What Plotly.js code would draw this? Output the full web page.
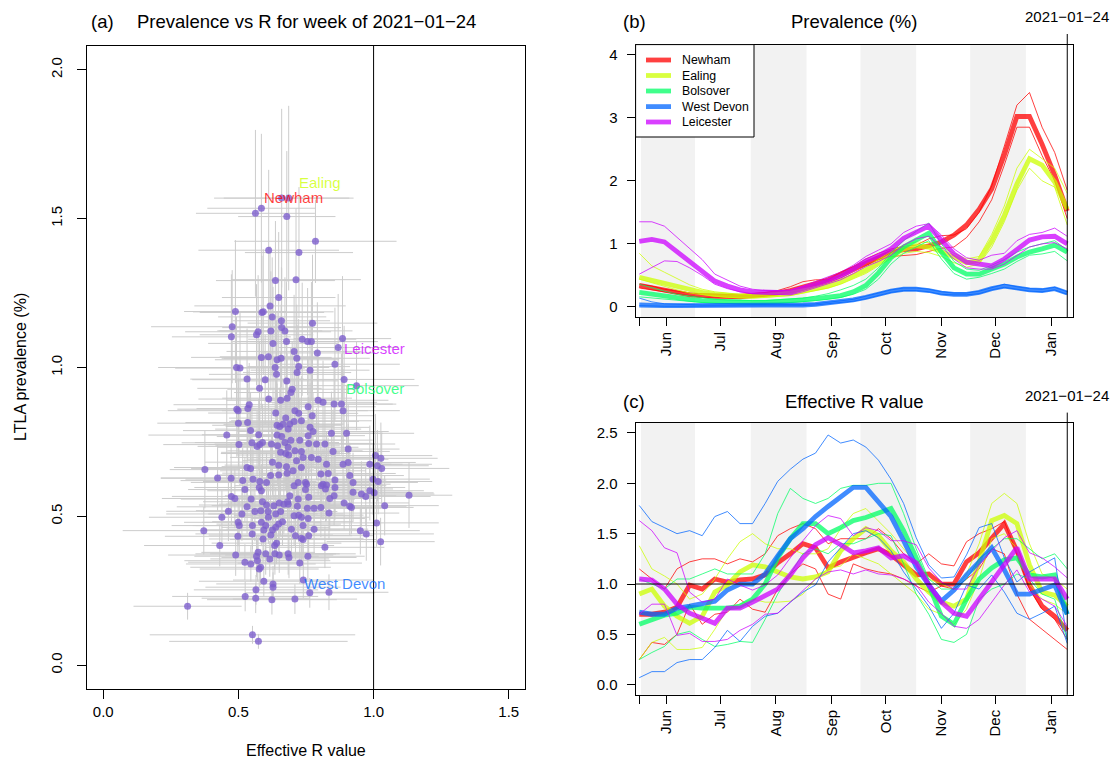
<!DOCTYPE html>
<html><head><meta charset="utf-8">
<script src="https://cdn.plot.ly/plotly-3.0.1.min.js"></script>
<style>html,body{margin:0;padding:0;background:#fff;}#chart{width:1115px;height:763px;}</style>
</head><body><div id="chart"></div>
<script>
// ---------- Panel (a): LTLA prevalence vs R ----------
const ltlaR = [
0.563,0.585,0.660,0.686,0.679,0.785,0.612,0.724,0.637,0.713,
0.649,0.617,0.489,0.587,0.592,0.625,0.659,0.774,0.477,0.660,
0.672,0.620,0.573,0.474,0.567,0.628,0.678,0.585,0.611,0.643,
0.658,0.493,0.506,0.636,0.641,0.532,0.599,0.679,0.578,0.612,
0.656,0.680,0.540,0.494,0.499,0.535,0.638,0.675,0.500,0.534,
0.643,0.653,0.665,0.684,0.545,0.457,0.575,0.643,0.660,0.550,
0.502,0.569,0.579,0.589,0.622,0.645,0.672,0.684,0.656,0.675,
0.686,0.626,0.376,0.532,0.545,0.649,0.678,0.423,0.473,0.516,
0.554,0.579,0.604,0.619,0.649,0.680,0.736,0.756,0.770,0.885,
0.869,0.706,0.792,0.716,0.723,0.857,0.765,0.717,0.891,0.937,
0.699,0.694,0.795,0.813,0.854,0.881,0.709,0.723,0.758,0.887,
0.773,0.733,0.690,0.706,0.765,0.776,0.844,0.900,0.758,0.727,
0.694,0.760,0.789,0.820,0.906,0.709,0.733,0.850,0.739,0.770,
0.795,0.715,0.826,0.887,0.906,1.007,1.014,0.986,0.702,0.733,
0.805,0.832,0.912,0.924,0.998,0.748,0.721,0.857,0.813,0.474,
0.487,0.524,0.577,0.585,0.547,0.589,0.604,0.631,0.651,0.668,
0.682,0.532,0.463,0.513,0.561,0.583,0.610,0.638,0.656,0.439,
0.611,0.499,0.503,0.585,0.601,0.552,0.649,0.663,0.638,0.372,
0.594,0.626,0.551,0.498,0.620,0.591,0.641,0.634,0.431,0.490,
0.567,0.573,0.601,0.635,0.651,0.684,0.616,0.570,0.524,0.546,
0.582,0.577,0.594,0.628,0.628,0.565,0.525,0.564,0.624,0.312,
0.552,0.574,0.706,0.752,0.748,0.807,0.826,0.857,0.854,0.838,
0.822,0.924,0.955,0.986,1.131,0.690,0.721,0.760,0.684,0.718,
0.755,0.780,0.805,0.891,0.912,0.918,1.041,0.835,0.706,0.723,
0.733,0.758,1.011,0.739,0.780,0.696,0.951,0.973,0.711,0.733,
0.760,0.739,1.026,0.820,0.687,0.757,0.727,0.740,0.764,0.835,
0.709,1.017,0.971,1.002,1.027,1.030];
const ltlaPrev = [
1.518,1.535,1.569,1.569,1.507,1.424,1.394,1.386,1.292,1.295,
1.235,1.207,1.188,1.185,1.187,1.170,1.157,1.149,1.137,1.134,
1.123,1.123,1.120,1.103,1.110,1.081,1.087,1.034,1.036,1.026,
1.031,1.000,0.998,1.000,0.977,0.961,0.959,0.955,0.930,0.894,
0.890,0.897,0.875,0.860,0.855,0.862,0.847,0.830,0.813,0.815,
0.806,0.802,0.809,0.793,0.788,0.773,0.774,0.773,0.768,0.747,
0.741,0.735,0.741,0.748,0.743,0.737,0.748,0.732,0.715,0.711,
0.706,0.682,0.657,0.664,0.661,0.672,0.667,0.629,0.628,0.620,
0.625,0.617,0.614,0.637,0.639,0.645,1.095,1.087,1.087,1.097,
1.067,1.054,1.049,1.031,1.003,1.011,0.991,0.983,0.960,0.939,
0.927,0.916,0.890,0.883,0.877,0.877,0.855,0.846,0.868,0.855,
0.838,0.821,0.810,0.819,0.799,0.785,0.779,0.779,0.771,0.756,
0.756,0.745,0.743,0.743,0.726,0.720,0.718,0.718,0.698,0.698,
0.692,0.687,0.675,0.675,0.681,0.704,0.670,0.675,0.653,0.664,
0.642,0.644,0.637,0.614,0.625,0.614,0.614,0.622,0.608,0.567,
0.560,0.590,0.597,0.586,0.558,0.549,0.538,0.536,0.545,0.541,
0.549,0.532,0.517,0.508,0.516,0.519,0.516,0.508,0.516,0.497,
0.497,0.480,0.469,0.480,0.469,0.469,0.474,0.482,0.463,0.452,
0.454,0.454,0.441,0.433,0.437,0.424,0.410,0.402,0.402,0.370,
0.366,0.379,0.374,0.374,0.370,0.374,0.357,0.351,0.346,0.340,
0.329,0.323,0.282,0.273,0.262,0.253,0.231,0.225,0.220,0.198,
0.102,0.080,0.603,0.608,0.590,0.603,0.605,0.597,0.569,0.560,
0.592,0.581,0.575,0.586,0.571,0.569,0.558,0.564,0.541,0.534,
0.527,0.527,0.530,0.545,0.534,0.530,0.536,0.511,0.502,0.504,
0.497,0.493,0.478,0.469,0.457,0.457,0.452,0.441,0.435,0.426,
0.435,0.422,0.415,0.396,0.362,0.366,0.343,0.286,0.243,0.245,
0.222,0.617,0.567,0.579,0.695,0.661];
const ltlaRErr = [
0.22,0.20,0.25,0.24,0.18,0.30,0.26,0.20,0.22,0.24,
0.21,0.28,0.19,0.23,0.26,0.20,0.18,0.24,0.30,0.22,
0.25,0.19,0.27,0.22,0.21,0.24,0.20,0.26,0.18,0.23,
0.22,0.29,0.24,0.20,0.25,0.21,0.27,0.19,0.23,0.26,
0.20,0.24,0.28,0.22,0.26,0.19,0.25,0.21,0.30,0.23,
0.24,0.20,0.22,0.27,0.25,0.29,0.21,0.18,0.24,0.26,
0.28,0.22,0.19,0.25,0.21,0.23,0.20,0.26,0.22,0.24,
0.19,0.25,0.13,0.27,0.22,0.20,0.24,0.21,0.26,0.23,
0.25,0.21,0.28,0.19,0.22,0.24,0.20,0.26,0.23,0.18,
0.22,0.25,0.21,0.27,0.19,0.24,0.22,0.20,0.26,0.23,
0.24,0.21,0.26,0.20,0.23,0.19,0.27,0.22,0.25,0.21,
0.23,0.26,0.20,0.24,0.22,0.28,0.19,0.25,0.21,0.27,
0.20,0.24,0.22,0.26,0.19,0.25,0.23,0.21,0.27,0.22,
0.26,0.20,0.24,0.22,0.25,0.21,0.19,0.23,0.27,0.24,
0.22,0.25,0.20,0.24,0.21,0.26,0.23,0.19,0.25,0.22,
0.27,0.21,0.24,0.20,0.26,0.22,0.25,0.23,0.19,0.24,
0.21,0.26,0.23,0.28,0.20,0.24,0.22,0.25,0.21,0.27,
0.24,0.20,0.25,0.22,0.27,0.21,0.23,0.26,0.20,0.30,
0.22,0.25,0.21,0.27,0.23,0.20,0.24,0.22,0.28,0.25,
0.23,0.21,0.26,0.24,0.20,0.25,0.22,0.27,0.21,0.24,
0.26,0.22,0.24,0.21,0.25,0.23,0.27,0.20,0.24,0.20,
0.38,0.33,0.22,0.25,0.20,0.24,0.21,0.26,0.23,0.19,
0.25,0.22,0.27,0.20,0.16,0.24,0.21,0.26,0.23,0.20,
0.22,0.25,0.19,0.24,0.21,0.23,0.20,0.26,0.22,0.24,
0.25,0.21,0.23,0.27,0.20,0.24,0.22,0.25,0.21,0.23,
0.24,0.27,0.20,0.22,0.25,0.21,0.23,0.26,0.24,0.22,
0.23,0.20,0.24,0.22,0.21,0.25];
const ltlaPrevErr = [
0.28,0.25,0.30,0.31,0.22,0.14,0.27,0.22,0.20,0.24,
0.22,0.20,0.24,0.19,0.21,0.20,0.18,0.23,0.19,0.20,
0.18,0.20,0.19,0.21,0.17,0.19,0.20,0.17,0.18,0.16,
0.18,0.17,0.19,0.16,0.18,0.17,0.15,0.18,0.16,0.15,
0.16,0.15,0.14,0.16,0.15,0.13,0.15,0.14,0.15,0.13,
0.14,0.13,0.15,0.14,0.13,0.15,0.12,0.14,0.13,0.12,
0.13,0.12,0.14,0.13,0.12,0.13,0.14,0.12,0.13,0.12,
0.12,0.11,0.13,0.12,0.11,0.12,0.13,0.11,0.12,0.11,
0.11,0.12,0.10,0.11,0.12,0.11,0.19,0.18,0.20,0.21,
0.18,0.19,0.17,0.18,0.16,0.19,0.17,0.16,0.18,0.15,
0.16,0.15,0.16,0.14,0.15,0.17,0.14,0.15,0.16,0.14,
0.14,0.15,0.13,0.14,0.15,0.13,0.14,0.16,0.13,0.14,
0.13,0.14,0.12,0.13,0.15,0.12,0.13,0.14,0.12,0.13,
0.12,0.13,0.11,0.12,0.13,0.14,0.12,0.13,0.11,0.12,
0.11,0.12,0.11,0.10,0.12,0.11,0.10,0.11,0.12,0.10,
0.10,0.11,0.10,0.09,0.10,0.11,0.09,0.10,0.11,0.10,
0.10,0.09,0.10,0.09,0.10,0.09,0.10,0.09,0.08,0.09,
0.09,0.08,0.09,0.08,0.09,0.08,0.09,0.08,0.09,0.08,
0.08,0.09,0.08,0.07,0.08,0.08,0.07,0.08,0.07,0.07,
0.07,0.06,0.07,0.07,0.06,0.07,0.06,0.07,0.06,0.06,
0.06,0.06,0.05,0.06,0.05,0.05,0.05,0.05,0.05,0.045,
0.03,0.025,0.11,0.12,0.10,0.11,0.12,0.11,0.10,0.11,
0.11,0.10,0.11,0.10,0.11,0.10,0.11,0.10,0.10,0.11,
0.10,0.09,0.10,0.09,0.10,0.09,0.10,0.09,0.10,0.09,
0.09,0.10,0.08,0.09,0.08,0.09,0.08,0.09,0.08,0.08,
0.08,0.09,0.08,0.07,0.07,0.08,0.07,0.06,0.05,0.06,
0.05,0.11,0.10,0.11,0.12,0.12];

// highlighted LTLAs: names, colours, label anchor positions (data units of panel a)
const ltlaNames  = ['Newham','Ealing','Bolsover','West Devon','Leicester'];
const ltlaColors = ['rgba(255,0,0,0.75)','rgba(204,255,0,0.75)','rgba(0,255,102,0.75)','rgba(0,102,255,0.75)','rgba(204,0,255,0.75)'];
const labelR    = [0.589, 0.715, 0.890, 0.736, 0.883];
const labelPrev = [1.571, 1.620, 0.928, 0.275, 1.064];

// ---------- Panels (b) and (c): weekly series ----------
const weeks = ["2020-05-31","2020-06-07","2020-06-14","2020-06-21","2020-06-28","2020-07-05","2020-07-12","2020-07-19","2020-07-26",
"2020-08-02","2020-08-09","2020-08-16","2020-08-23","2020-08-30","2020-09-06","2020-09-13","2020-09-20","2020-09-27",
"2020-10-04","2020-10-11","2020-10-18","2020-10-25","2020-11-01","2020-11-08","2020-11-15","2020-11-22","2020-11-29",
"2020-12-06","2020-12-13","2020-12-20","2020-12-27","2021-01-03","2021-01-10","2021-01-17","2021-01-24"];

const newhamPrevMed = [0.34,0.30,0.26,0.22,0.19,0.18,0.17,0.16,0.16,0.18,0.20,0.22,0.26,0.31,0.37,0.43,0.52,0.60,0.71,0.80,0.87,0.91,0.92,0.97,1.03,1.14,1.30,1.55,1.87,2.41,3.02,3.02,2.58,2.09,1.52];
const newhamPrevLo  = [0.30,0.27,0.23,0.20,0.17,0.15,0.14,0.14,0.14,0.15,0.17,0.19,0.22,0.26,0.32,0.38,0.46,0.56,0.66,0.75,0.80,0.82,0.83,0.88,0.93,0.95,1.10,1.35,1.70,2.25,2.85,2.85,2.40,2.00,1.40];
const newhamPrevHi  = [0.36,0.33,0.28,0.25,0.22,0.21,0.20,0.20,0.20,0.21,0.23,0.26,0.32,0.40,0.43,0.43,0.55,0.64,0.76,0.85,0.92,0.96,0.98,1.08,1.13,1.14,1.24,1.50,1.92,2.55,3.20,3.40,2.85,2.45,1.85];
const ealingPrevMed = [0.47,0.42,0.37,0.32,0.27,0.23,0.20,0.18,0.17,0.17,0.18,0.19,0.21,0.25,0.29,0.33,0.40,0.48,0.58,0.70,0.82,0.92,0.97,0.95,0.88,0.78,0.70,0.74,1.05,1.45,1.95,2.35,2.25,1.98,1.55];
const ealingPrevLo  = [0.44,0.38,0.32,0.27,0.22,0.19,0.17,0.15,0.14,0.14,0.15,0.16,0.18,0.22,0.26,0.30,0.36,0.44,0.53,0.65,0.76,0.85,0.88,0.86,0.80,0.70,0.63,0.68,0.95,1.35,1.85,2.20,2.00,1.90,1.30];
const ealingPrevHi  = [0.85,0.65,0.55,0.45,0.35,0.28,0.24,0.22,0.20,0.20,0.21,0.22,0.25,0.28,0.32,0.37,0.44,0.52,0.63,0.75,0.88,0.98,1.03,1.02,0.95,0.85,0.76,0.80,1.15,1.60,2.20,2.50,2.35,2.20,1.80];
const bolsoverPrevMed = [0.23,0.20,0.17,0.14,0.12,0.10,0.09,0.08,0.07,0.07,0.07,0.08,0.09,0.11,0.13,0.16,0.18,0.24,0.34,0.54,0.78,0.95,1.06,1.17,0.87,0.62,0.52,0.52,0.60,0.68,0.79,0.87,0.92,0.98,0.87];
const bolsoverPrevLo  = [0.16,0.14,0.12,0.10,0.08,0.07,0.06,0.05,0.05,0.05,0.05,0.06,0.07,0.08,0.10,0.12,0.15,0.20,0.28,0.44,0.68,0.85,0.95,1.05,0.76,0.53,0.44,0.47,0.53,0.60,0.72,0.82,0.84,0.88,0.73];
const bolsoverPrevHi  = [0.36,0.30,0.25,0.20,0.17,0.14,0.12,0.11,0.10,0.10,0.10,0.11,0.12,0.14,0.17,0.21,0.27,0.34,0.44,0.62,0.86,1.05,1.20,1.33,1.00,0.72,0.60,0.58,0.66,0.75,0.87,0.95,1.00,1.05,0.90];
const westDevonPrevMed = [0.03,0.02,0.02,0.02,0.02,0.02,0.02,0.02,0.02,0.02,0.02,0.02,0.02,0.03,0.04,0.06,0.08,0.11,0.15,0.20,0.25,0.28,0.28,0.26,0.22,0.20,0.20,0.23,0.29,0.33,0.30,0.27,0.26,0.29,0.22];
const westDevonPrevLo  = [0.02,0.01,0.01,0.01,0.01,0.01,0.01,0.01,0.01,0.01,0.01,0.01,0.01,0.02,0.03,0.05,0.07,0.09,0.13,0.18,0.23,0.26,0.26,0.24,0.20,0.19,0.19,0.21,0.27,0.31,0.28,0.25,0.24,0.27,0.20];
const westDevonPrevHi  = [0.14,0.08,0.05,0.04,0.03,0.03,0.03,0.03,0.03,0.03,0.03,0.03,0.03,0.04,0.05,0.07,0.09,0.12,0.17,0.22,0.27,0.30,0.30,0.28,0.24,0.22,0.22,0.25,0.31,0.36,0.32,0.29,0.28,0.31,0.24];
const leicesterPrevMed = [1.04,1.07,1.03,0.87,0.73,0.57,0.41,0.33,0.27,0.24,0.23,0.23,0.23,0.30,0.35,0.42,0.49,0.60,0.73,0.81,0.92,1.09,1.19,1.28,1.06,0.84,0.71,0.68,0.65,0.76,0.92,1.06,1.11,1.12,1.00];
const leicesterPrevLo  = [0.52,0.62,0.73,0.72,0.62,0.50,0.36,0.29,0.24,0.21,0.20,0.19,0.19,0.24,0.30,0.36,0.43,0.53,0.64,0.72,0.82,0.98,1.08,1.12,0.95,0.76,0.62,0.60,0.60,0.68,0.82,0.95,1.00,1.02,0.92];
const leicesterPrevHi  = [1.35,1.35,1.28,1.10,0.92,0.75,0.52,0.42,0.33,0.28,0.26,0.26,0.27,0.33,0.40,0.47,0.55,0.66,0.80,0.90,1.00,1.18,1.28,1.32,1.14,0.92,0.78,0.74,0.82,0.85,1.05,1.15,1.18,1.25,1.12];

const newhamRMed = [0.70,0.70,0.72,0.77,0.99,0.95,1.05,1.02,1.04,1.05,1.09,1.21,1.30,1.40,1.36,1.16,1.22,1.27,1.31,1.35,1.29,1.19,1.09,1.10,1.00,1.00,1.22,1.31,1.45,1.60,1.33,0.99,0.78,0.68,0.54];
const newhamRLo  = [0.25,0.42,0.40,0.50,0.80,0.60,0.70,0.72,0.85,0.75,0.72,0.95,1.10,1.20,1.15,0.90,0.85,1.20,1.15,1.12,1.10,1.05,0.98,0.92,0.98,0.95,1.05,1.15,1.35,1.30,0.90,0.65,0.55,0.45,0.35];
const newhamRHi  = [1.15,1.05,0.95,1.15,1.22,1.25,1.25,1.20,1.25,1.22,1.30,1.48,1.55,1.60,1.55,1.40,1.45,1.45,1.45,1.55,1.45,1.30,1.20,1.30,1.20,1.18,1.42,1.50,1.55,1.62,1.30,0.95,0.75,0.65,0.45];
const ealingRMed = [0.90,0.95,0.78,0.68,0.61,0.68,0.92,0.99,1.12,1.19,1.17,1.12,1.07,1.05,1.07,1.12,1.33,1.45,1.55,1.48,1.33,1.22,1.05,0.92,0.82,0.78,0.85,1.22,1.63,1.68,1.60,1.19,0.92,0.89,0.78];
const ealingRLo  = [0.25,0.42,0.47,0.35,0.35,0.37,0.55,0.75,0.80,0.85,0.82,0.82,0.83,0.90,1.05,1.15,1.18,1.30,1.25,1.20,1.10,1.00,0.90,0.75,0.70,0.60,0.75,1.05,1.45,1.50,1.35,1.00,0.85,0.80,0.70];
const ealingRHi  = [1.38,1.15,1.08,1.00,0.85,0.90,1.05,1.25,1.42,1.50,1.40,1.35,1.35,1.30,1.30,1.35,1.55,1.70,1.75,1.62,1.50,1.35,1.20,1.05,1.00,0.95,1.10,1.40,1.80,1.90,1.80,1.40,1.10,1.05,0.95];
const bolsoverRMed = [0.60,0.65,0.69,0.71,0.77,0.76,0.76,0.76,0.78,0.85,1.00,1.26,1.45,1.60,1.60,1.50,1.56,1.63,1.66,1.70,1.75,1.53,1.26,0.99,0.68,0.60,0.85,1.05,1.16,1.24,1.26,1.09,1.07,1.09,0.70];
const bolsoverRLo  = [0.25,0.32,0.38,0.50,0.53,0.45,0.38,0.40,0.43,0.42,0.65,0.90,1.10,1.30,1.35,1.30,1.40,1.40,1.45,1.50,1.48,1.20,0.90,0.70,0.45,0.42,0.50,0.85,0.95,1.00,1.10,1.05,0.90,0.85,0.45];
const bolsoverRHi  = [1.05,1.00,0.95,1.05,1.05,1.10,1.15,1.10,1.10,1.10,1.30,1.70,1.95,1.85,1.80,1.85,1.95,1.98,1.98,2.00,2.00,1.70,1.35,1.05,0.95,0.95,1.05,1.25,1.35,1.45,1.45,1.35,1.25,1.30,1.15];
const westDevonRMed = [0.72,0.70,0.70,0.76,0.78,0.80,0.83,0.94,1.00,1.00,1.10,1.28,1.45,1.55,1.67,1.77,1.87,1.96,1.96,1.82,1.67,1.43,1.17,0.99,0.83,0.94,1.09,1.22,1.36,1.14,0.90,0.90,0.95,0.99,0.70];
const westDevonRLo  = [0.07,0.13,0.13,0.22,0.25,0.25,0.37,0.54,0.43,0.58,0.68,0.71,0.82,0.92,0.99,1.22,1.36,1.50,1.53,1.46,1.33,1.12,0.95,0.78,0.56,0.71,0.99,0.95,1.09,0.92,0.71,0.65,0.71,0.78,0.41];
const westDevonRHi  = [1.78,1.62,1.56,1.50,1.53,1.48,1.67,1.72,1.60,1.60,1.80,2.02,2.14,2.24,2.30,2.48,2.40,2.43,2.36,2.23,2.04,1.80,1.46,1.19,1.06,1.07,1.29,1.56,1.60,1.26,1.02,1.12,1.19,1.26,0.44];
const leicesterRMed = [1.05,1.04,0.95,0.80,0.71,0.66,0.61,0.76,0.76,0.82,0.88,0.95,1.09,1.26,1.39,1.46,1.39,1.31,1.33,1.36,1.26,1.28,1.21,0.99,0.82,0.71,0.68,0.85,1.02,1.19,1.36,1.05,1.05,1.05,0.85];
const leicesterRLo  = [0.70,0.80,0.80,0.49,0.51,0.43,0.43,0.45,0.54,0.60,0.70,0.71,0.82,0.94,1.05,1.12,1.14,1.10,1.14,1.10,1.09,1.05,0.99,0.82,0.71,0.58,0.56,0.65,0.82,0.99,1.14,0.92,0.85,0.78,0.58];
const leicesterRHi  = [1.63,1.53,1.36,1.31,0.92,0.82,0.85,1.05,0.99,0.94,0.99,1.09,1.26,1.43,1.58,1.68,1.65,1.48,1.56,1.53,1.43,1.43,1.39,1.16,1.02,0.95,0.95,1.19,1.33,1.46,1.53,1.31,1.26,1.17,1.06];

const monthTickDates = ["2020-05-31","2020-06-15","2020-07-15","2020-08-15","2020-09-15","2020-10-15","2020-11-15","2020-12-15","2021-01-15"];
const monthTickLabels = ["","Jun","Jul","Aug","Sep","Oct","Nov","Dec","Jan"];
const shadedMonthStart = ["2020-06-01","2020-08-01","2020-10-01","2020-12-01"];
const shadedMonthEnd   = ["2020-07-01","2020-09-01","2020-11-01","2021-01-01"];
const currentWeek = "2021-01-24";
const currentWeekLabel = "2021\u221201\u221224";

const prevTicks = [0, 1, 2, 3, 4];
const prevTickText = ['0', '1', '2', '3', '4'];
const rTicks = [0, 0.5, 1, 1.5, 2, 2.5];
const rTickText = ['0.0', '0.5', '1.0', '1.5', '2.0', '2.5'];
const scatterXTicks = [0, 0.5, 1, 1.5];
const scatterXTickText = ['0.0', '0.5', '1.0', '1.5'];
const scatterYTicks = [0, 0.5, 1, 1.5, 2];
const scatterYTickText = ['0.0', '0.5', '1.0', '1.5', '2.0'];

// ---------- build ----------
const W = 1115, H = 763;
const px = v => v / W, py = v => 1 - v / H;
const FONT = 'Liberation Sans, Arial, Helvetica, sans-serif';

const prevSeries = [
  [newhamPrevLo, newhamPrevHi, newhamPrevMed],
  [ealingPrevLo, ealingPrevHi, ealingPrevMed],
  [bolsoverPrevLo, bolsoverPrevHi, bolsoverPrevMed],
  [westDevonPrevLo, westDevonPrevHi, westDevonPrevMed],
  [leicesterPrevLo, leicesterPrevHi, leicesterPrevMed]];
const rSeries = [
  [newhamRLo, newhamRHi, newhamRMed],
  [ealingRLo, ealingRHi, ealingRMed],
  [bolsoverRLo, bolsoverRHi, bolsoverRMed],
  [westDevonRLo, westDevonRHi, westDevonRMed],
  [leicesterRLo, leicesterRHi, leicesterRMed]];

const traces = [];
traces.push({
  type: 'scatter', mode: 'markers', x: ltlaR, y: ltlaPrev, xaxis: 'x', yaxis: 'y',
  marker: {size: 7, color: 'rgba(125,95,205,0.8)'},
  error_x: {type: 'data', array: ltlaRErr, color: '#cccccc', thickness: 1, width: 0},
  error_y: {type: 'data', array: ltlaPrevErr, color: '#cccccc', thickness: 1, width: 0},
  hoverinfo: 'skip', showlegend: false
});
function addSeries(series, xa, ya) {
  series.forEach((s, k) => {
    [0, 1, 2].forEach(j => {
      traces.push({
        type: 'scatter', mode: 'lines', x: weeks, y: s[j], xaxis: xa, yaxis: ya,
        line: {color: ltlaColors[k], width: j === 2 ? 4.8 : 1},
        hoverinfo: 'skip', showlegend: false
      });
    });
  });
}
addSeries(prevSeries, 'x2', 'y2');
addSeries(rSeries, 'x3', 'y3');
// empty traces so that the label-only overlay axes are drawn
[['x', 'y4'], ['x2', 'y5'], ['x3', 'y6']].forEach(p => traces.push({type: 'scatter', mode: 'lines', x: [], y: [], xaxis: p[0], yaxis: p[1], hoverinfo: 'skip', showlegend: false}));

const baseAxis = {
  showline: true, mirror: true, linecolor: '#000', linewidth: 1, showgrid: false, zeroline: false,
  ticks: 'outside', tickcolor: '#000', tickwidth: 1, tickfont: {family: FONT, size: 15, color: '#000'},
  fixedrange: true
};
// overlay axes that only carry the tick labels, pushed out with an invisible tick
const labelAxis = {
  showline: false, showgrid: false, zeroline: false, ticks: 'outside', tickcolor: 'rgba(0,0,0,0)',
  tickfont: {family: FONT, size: 15, color: '#000'}, fixedrange: true, side: 'left'
};
const xDomainTS = [px(635.6), px(1072.8)];
const dateRange = ["2020-05-28 23:00", "2021-01-27 02:00"];
const scatterYRange = [-0.08, 2.08], prevRange = [-0.16, 4.16], rRange = [-0.1, 2.6];

const layout = {
  width: W, height: H, margin: {l: 0, r: 0, t: 0, b: 0},
  paper_bgcolor: '#fff', plot_bgcolor: 'rgba(0,0,0,0)', showlegend: false,
  font: {family: FONT, size: 15, color: '#000'},
  xaxis: Object.assign({}, baseAxis, {domain: [px(87), px(525)], range: [-0.06, 1.56], anchor: 'y',
    tickvals: scatterXTicks, ticktext: scatterXTickText, ticklen: 9}),
  yaxis: Object.assign({}, baseAxis, {domain: [py(689), py(46)], range: scatterYRange, anchor: 'x',
    tickvals: scatterYTicks, showticklabels: false, ticklen: 9}),
  yaxis4: Object.assign({}, labelAxis, {overlaying: 'y', anchor: 'x', range: scatterYRange,
    tickvals: scatterYTicks, ticktext: scatterYTickText, tickangle: -90, ticklen: 18}),
  xaxis2: Object.assign({}, baseAxis, {domain: xDomainTS, type: 'date', range: dateRange, anchor: 'y2',
    tickvals: monthTickDates, ticktext: monthTickLabels, tickangle: -90, ticklen: 8}),
  yaxis2: Object.assign({}, baseAxis, {domain: [py(317), py(44.6)], range: prevRange, anchor: 'x2',
    tickvals: prevTicks, showticklabels: false, ticklen: 8}),
  yaxis5: Object.assign({}, labelAxis, {overlaying: 'y2', anchor: 'x2', range: prevRange,
    tickvals: prevTicks, ticktext: prevTickText, ticklen: 14}),
  xaxis3: Object.assign({}, baseAxis, {domain: xDomainTS, type: 'date', range: dateRange, anchor: 'y3',
    tickvals: monthTickDates, ticktext: monthTickLabels, tickangle: -90, ticklen: 8}),
  yaxis3: Object.assign({}, baseAxis, {domain: [py(694.8), py(422.9)], range: rRange, anchor: 'x3',
    tickvals: rTicks, showticklabels: false, ticklen: 8}),
  yaxis6: Object.assign({}, labelAxis, {overlaying: 'y3', anchor: 'x3', range: rRange,
    tickvals: rTicks, ticktext: rTickText, ticklen: 14}),
  shapes: [], annotations: []
};

// month shading
shadedMonthStart.forEach((s, i) => {
  ['2', '3'].forEach(n => {
    layout.shapes.push({type: 'rect', xref: 'x' + n, yref: 'y' + n + ' domain', x0: s, x1: shadedMonthEnd[i], y0: 0, y1: 1,
      fillcolor: '#f2f2f2', line: {width: 0}, layer: 'below'});
  });
});
// reference lines
layout.shapes.push({type: 'line', xref: 'x', yref: 'y domain', x0: 1, x1: 1, y0: 0, y1: 1, line: {color: '#000', width: 1}});
layout.shapes.push({type: 'line', xref: 'x3 domain', yref: 'y3', x0: 0, x1: 1, y0: 1, y1: 1, line: {color: '#000', width: 1}});
layout.shapes.push({type: 'line', xref: 'x2', yref: 'paper', x0: currentWeek, x1: currentWeek, y0: py(317), y1: py(34), line: {color: '#000', width: 1}});
layout.shapes.push({type: 'line', xref: 'x3', yref: 'paper', x0: currentWeek, x1: currentWeek, y0: py(694.8), y1: py(412.6), line: {color: '#000', width: 1}});

// legend of panel (b)
layout.shapes.push({type: 'rect', xref: 'paper', yref: 'paper', x0: px(635.6), x1: px(754), y0: py(137), y1: py(44.6),
  fillcolor: '#fff', line: {color: '#000', width: 1}, layer: 'above'});
const legendY = [60, 75.5, 91, 106.6, 122];
ltlaNames.forEach((nm, k) => {
  layout.shapes.push({type: 'line', xref: 'paper', yref: 'paper', x0: px(646), x1: px(671), y0: py(legendY[k]), y1: py(legendY[k]),
    line: {color: ltlaColors[k], width: 4.8}, layer: 'above'});
  layout.annotations.push({xref: 'paper', yref: 'paper', x: px(680), y: py(legendY[k]), xanchor: 'left', yanchor: 'middle',
    text: nm, showarrow: false, font: {family: FONT, size: 12.3, color: '#000'}});
});

// labels in panel (a)
ltlaNames.forEach((nm, k) => {
  layout.annotations.push({xref: 'x', yref: 'y', x: labelR[k], y: labelPrev[k], xanchor: 'left', yanchor: 'middle',
    text: nm, showarrow: false, font: {family: FONT, size: 15, color: ltlaColors[k]}});
});

// titles
function txt(x, y, t, size, xanchor, angle) {
  layout.annotations.push({xref: 'paper', yref: 'paper', x: px(x), y: py(y), text: t, showarrow: false,
    xanchor: xanchor || 'center', yanchor: 'middle', textangle: angle || 0, font: {family: FONT, size: size, color: '#000'}});
}
txt(89, 21, '(a)', 18.5, 'left');
txt(306, 21, 'Prevalence vs R for week of ' + currentWeekLabel, 18.5);
txt(621, 22, '(b)', 18.5, 'left');
txt(854, 22, 'Prevalence (%)', 18.5);
txt(1067, 16, currentWeekLabel, 15);
txt(621, 401, '(c)', 18.5, 'left');
txt(854, 401, 'Effective R value', 18.5);
txt(1067, 395, currentWeekLabel, 15);
txt(306, 750, 'Effective R value', 16);
txt(20, 367, 'LTLA prevalence (%)', 16, 'center', -90);

Plotly.newPlot('chart', traces, layout, {staticPlot: true, displayModeBar: false});
</script></body></html>
